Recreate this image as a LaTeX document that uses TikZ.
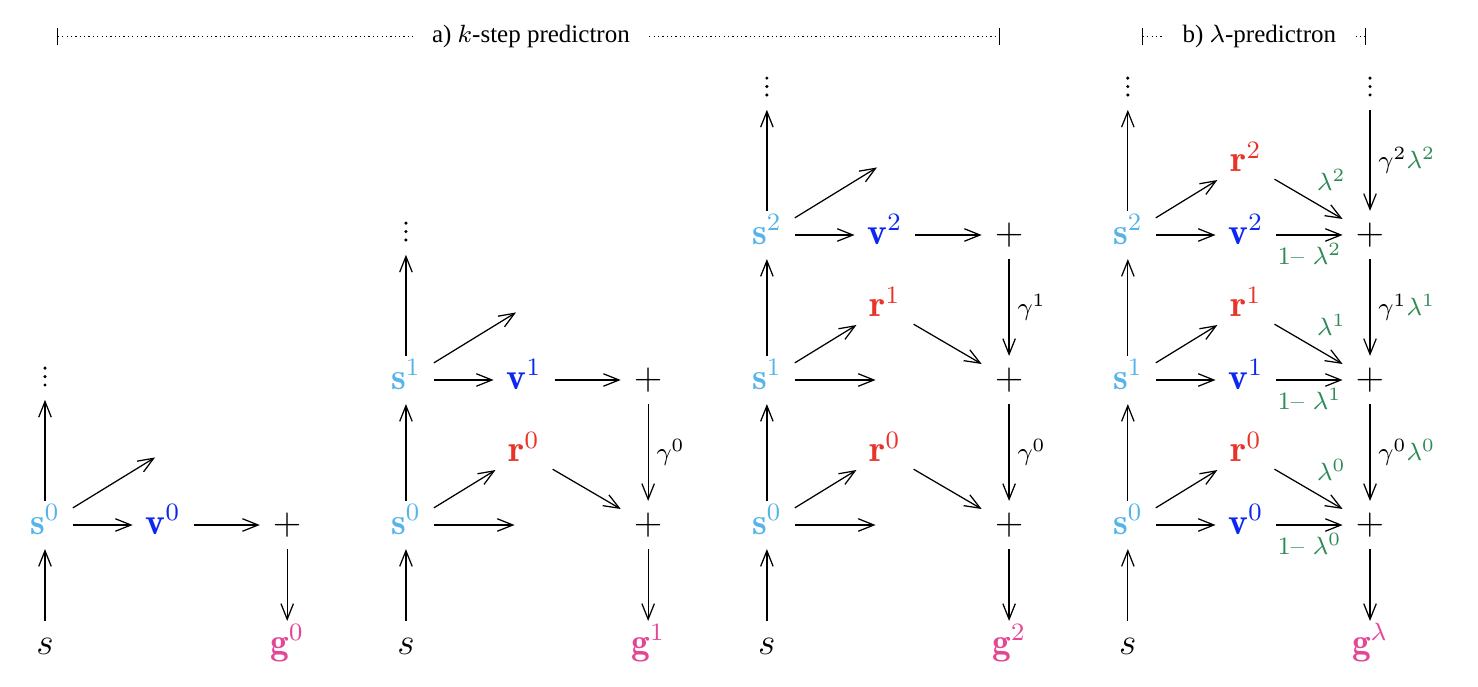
\documentclass[tikz,border=0pt]{standalone}
\usepackage{amsmath}
\usepackage{fontspec}
\newfontfamily\ttlfont{Liberation Serif}
\usepackage{tikz}
\usetikzlibrary{positioning,arrows.meta}
\definecolor{skyb}{RGB}{86,180,233}
\definecolor{valb}{RGB}{12,40,240}
\definecolor{rewr}{RGB}{232,52,40}
\definecolor{retp}{RGB}{228,70,150}
\definecolor{lamg}{RGB}{46,139,87}
\tikzset{mth/.style={inner xsep=4pt,inner ysep=1.5pt,text height=9pt,text depth=3pt,node font=\large}}
\tikzset{stt/.style={mth,text=skyb}}
\tikzset{val/.style={mth,text=valb}}
\tikzset{rew/.style={mth,text=rewr}}
\tikzset{ret/.style={mth,text=retp}}
\tikzset{dts/.style={inner sep=0pt,minimum width=3pt,minimum height=14.5pt,
    path picture={\foreach \k in {-1,0,1}
      \fill (path picture bounding box.center) ++(0,\k*2.7pt) circle (0.55pt);}}}
\tikzstyle{hole}=[circle, inner sep=2pt]
\tikzstyle{lbl}=[inner sep=2.5pt, node font=\footnotesize]
\tikzstyle{lam}=[lbl, text=lamg]
\tikzstyle{ttl}=[inner xsep=6pt, node font=\footnotesize\ttlfont]
\tikzstyle{hdr}=[densely dotted]
\tikzstyle{arrow}=[-{Straight Barb[length=5pt,width=4pt]}]

\begin{document}
\begin{tikzpicture}[on grid,auto,node distance=23.2pt and 37.8pt]
  \useasboundingbox (-14.4pt,-51.52pt) rectangle (458.56pt,168pt);

  % header
  \coordinate (a_hl) at (3.8pt,156.2pt);
  \coordinate (a_hr) at (305.6pt,156.2pt);
  \node[ttl] (a_t) at (155.5pt,156.2pt) {a) $k$-step predictron};
  \path[hdr,{Bar[width=5.5pt]}-] (a_hl) edge (a_t);
  \path[hdr,-{Bar[width=5.5pt]}] (a_t) edge (a_hr);
  \coordinate (l_hl) at (351pt,156.2pt);
  \coordinate (l_hr) at (422.7pt,156.2pt);
  \node[ttl] (l_t) at (388.6pt,156.2pt) {b) $\lambda$-predictron};
  \path[hdr,{Bar[width=5.5pt]}-] (l_hl) edge (l_t);
  \path[hdr,-{Bar[width=5.5pt]}] (l_t) edge (l_hr);

  % 0-step
  \node[stt] (a_s0) at (0,0) {$\mathbf{s}^0$};
  \node[mth] (a_s) [below=38.4pt of a_s0] {$s$};
  \node[dts] (a_d) [above=47.5pt of a_s0] {};
  \node[hole] (a_h) [above right=of a_s0] {};
  \node[val] (a_v0) [right=of a_s0] {$\mathbf{v}^0$};
  \node[mth] (a_p0) [right=39.7pt of a_v0] {$+$};
  \node[ret] (a_g) [below=38.4pt of a_p0] {$\mathbf{g}^0$};
  \path[arrow] (a_s) edge (a_s0);
  \path[arrow] (a_s0) edge (a_d);
  \path[arrow] (a_s0) edge (a_h);
  \path[arrow] (a_s0) edge (a_v0);
  \path[arrow] (a_v0) edge (a_p0);
  \path[arrow] (a_p0) edge (a_g);

  % 1-step
  \node[stt] (b_s0) at (115.5pt,0) {$\mathbf{s}^0$};
  \node[mth] (b_s) [below=38.4pt of b_s0] {$s$};
  \node[rew] (b_r0) [above right=of b_s0] {$\mathbf{r}^0$};
  \node[hole] (b_h0) [right=of b_s0] {};
  \node[stt] (b_s1) [above=46.4pt of b_s0] {$\mathbf{s}^1$};
  \node[dts] (b_d) [above=47.5pt of b_s1] {};
  \node[hole] (b_h1) [above right=of b_s1] {};
  \node[val] (b_v1) [right=of b_s1] {$\mathbf{v}^1$};
  \node[mth] (b_p1) [right=39.7pt of b_v1] {$+$};
  \node[mth] (b_p0) [below=46.4pt of b_p1] {$+$};
  \node[ret] (b_g) [below=38.4pt of b_p0] {$\mathbf{g}^1$};
  \path[arrow] (b_s) edge (b_s0);
  \path[arrow] (b_s0) edge (b_s1);
  \path[arrow] (b_s1) edge (b_d);
  \path[arrow] (b_s0) edge (b_r0);
  \path[arrow] (b_s0) edge (b_h0);
  \path[arrow] (b_s1) edge (b_h1);
  \path[arrow] (b_s1) edge (b_v1);
  \path[arrow] (b_v1) edge (b_p1);
  \path[arrow] (b_r0) edge (b_p0);
  \path[arrow] (b_p1) edge node[lbl] {$\gamma^0$} (b_p0);
  \path[arrow] (b_p0) edge (b_g);

  % 2-step
  \node[stt] (c_s0) at (231pt,0) {$\mathbf{s}^0$};
  \node[mth] (c_s) [below=38.4pt of c_s0] {$s$};
  \node[rew] (c_r0) [above right=of c_s0] {$\mathbf{r}^0$};
  \node[hole] (c_h0) [right=of c_s0] {};
  \node[stt] (c_s1) [above=46.4pt of c_s0] {$\mathbf{s}^1$};
  \node[rew] (c_r1) [above right=of c_s1] {$\mathbf{r}^1$};
  \node[hole] (c_h1) [right=of c_s1] {};
  \node[stt] (c_s2) [above=46.4pt of c_s1] {$\mathbf{s}^2$};
  \node[dts] (c_d) [above=47.5pt of c_s2] {};
  \node[hole] (c_h2) [above right=of c_s2] {};
  \node[val] (c_v2) [right=of c_s2] {$\mathbf{v}^2$};
  \node[mth] (c_p2) [right=39.7pt of c_v2] {$+$};
  \node[mth] (c_p1) [below=46.4pt of c_p2] {$+$};
  \node[mth] (c_p0) [below=46.4pt of c_p1] {$+$};
  \node[ret] (c_g) [below=38.4pt of c_p0] {$\mathbf{g}^2$};
  \path[arrow] (c_s) edge (c_s0);
  \path[arrow] (c_s0) edge (c_s1);
  \path[arrow] (c_s1) edge (c_s2);
  \path[arrow] (c_s2) edge (c_d);
  \path[arrow] (c_s0) edge (c_r0);
  \path[arrow] (c_s0) edge (c_h0);
  \path[arrow] (c_s1) edge (c_r1);
  \path[arrow] (c_s1) edge (c_h1);
  \path[arrow] (c_s2) edge (c_h2);
  \path[arrow] (c_s2) edge (c_v2);
  \path[arrow] (c_v2) edge (c_p2);
  \path[arrow] (c_r1) edge (c_p1);
  \path[arrow] (c_r0) edge (c_p0);
  \path[arrow] (c_p2) edge node[lbl] {$\gamma^1$} (c_p1);
  \path[arrow] (c_p1) edge node[lbl] {$\gamma^0$} (c_p0);
  \path[arrow] (c_p0) edge (c_g);

  % lambda
  \node[stt] (l_s0) at (346.5pt,0) {$\mathbf{s}^0$};
  \node[mth] (l_s) [below=38.4pt of l_s0] {$s$};
  \node[rew] (l_r0) [above right=of l_s0] {$\mathbf{r}^0$};
  \node[val] (l_v0) [right=of l_s0] {$\mathbf{v}^0$};
  \node[stt] (l_s1) [above=46.4pt of l_s0] {$\mathbf{s}^1$};
  \node[rew] (l_r1) [above right=of l_s1] {$\mathbf{r}^1$};
  \node[val] (l_v1) [right=of l_s1] {$\mathbf{v}^1$};
  \node[stt] (l_s2) [above=46.4pt of l_s1] {$\mathbf{s}^2$};
  \node[rew] (l_r2) [above right=of l_s2] {$\mathbf{r}^2$};
  \node[val] (l_v2) [right=of l_s2] {$\mathbf{v}^2$};
  \node[dts] (l_d) [above=47.5pt of l_s2] {};
  \node[mth] (l_p2) [right=39.7pt of l_v2] {$+$};
  \node[dts] (l_pd) [above=47.5pt of l_p2] {};
  \node[mth] (l_p1) [below=46.4pt of l_p2] {$+$};
  \node[mth] (l_p0) [below=46.4pt of l_p1] {$+$};
  \node[ret] (l_g) [below=38.4pt of l_p0] {$\mathbf{g}^\lambda$};
  \path[arrow] (l_s) edge (l_s0);
  \path[arrow] (l_s0) edge (l_s1);
  \path[arrow] (l_s1) edge (l_s2);
  \path[arrow] (l_s2) edge (l_d);
  \path[arrow] (l_s0) edge (l_r0);
  \path[arrow] (l_s0) edge (l_v0);
  \path[arrow] (l_s1) edge (l_r1);
  \path[arrow] (l_s1) edge (l_v1);
  \path[arrow] (l_s2) edge (l_r2);
  \path[arrow] (l_s2) edge (l_v2);
  \path[arrow] (l_r2) edge node[lam] {$\lambda^2$} (l_p2);
  \path[arrow] (l_v2) edge node[lam,swap] {1-- $\lambda^2$} (l_p2);
  \path[arrow] (l_r1) edge node[lam] {$\lambda^1$} (l_p1);
  \path[arrow] (l_v1) edge node[lam,swap] {1-- $\lambda^1$} (l_p1);
  \path[arrow] (l_r0) edge node[lam] {$\lambda^0$} (l_p0);
  \path[arrow] (l_v0) edge node[lam,swap] {1-- $\lambda^0$} (l_p0);
  \path[arrow] (l_pd) edge node[lbl] {$\gamma^2{\color{lamg}\lambda^2}$} (l_p2);
  \path[arrow] (l_p2) edge node[lbl] {$\gamma^1{\color{lamg}\lambda^1}$} (l_p1);
  \path[arrow] (l_p1) edge node[lbl] {$\gamma^0{\color{lamg}\lambda^0}$} (l_p0);
  \path[arrow] (l_p0) edge (l_g);
\end{tikzpicture}
\end{document}
